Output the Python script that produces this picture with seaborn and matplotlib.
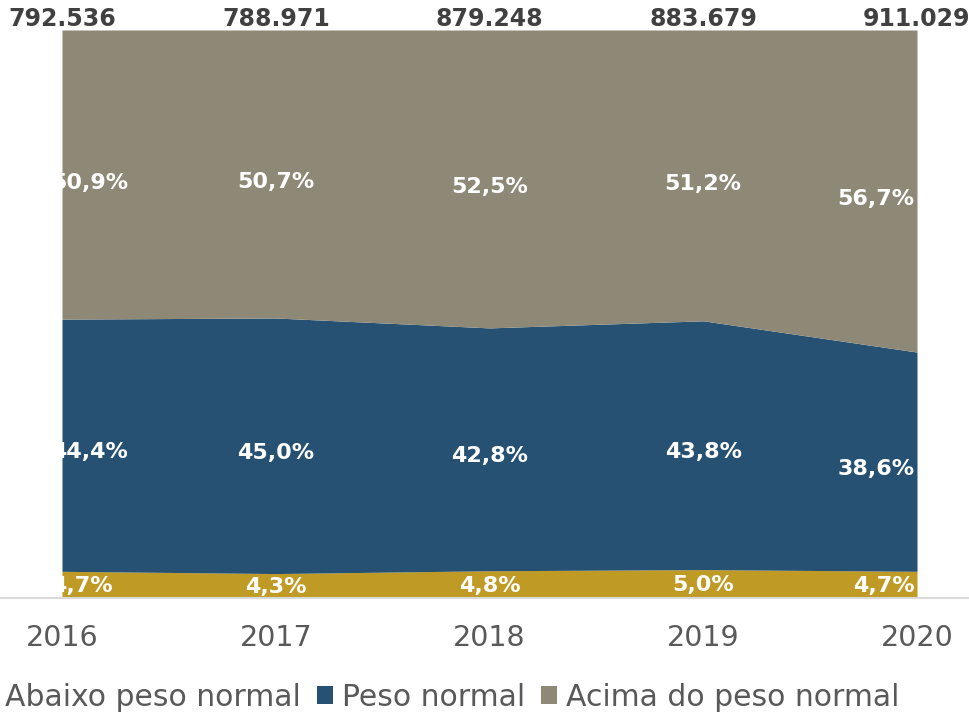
import matplotlib
matplotlib.use("Agg")
import matplotlib.pyplot as plt
from matplotlib.lines import Line2D
from matplotlib.patches import Patch
import seaborn as sns
import numpy as np

years = ["2016", "2017", "2018", "2019", "2020"]
totals = [792536, 788971, 879248, 883679, 911029]
abaixo = [4.7, 4.3, 4.8, 5.0, 4.7]
normal = [44.4, 45.0, 42.8, 43.8, 38.6]
acima = [50.9, 50.7, 52.5, 51.2, 56.7]

series_names = ["Abaixo peso normal", "Peso normal", "Acima do peso normal"]
colors = ["#BF9A24", "#265172", "#8E8876"]

sns.set_theme(style="white")
plt.rcParams["font.family"] = ["DejaVu Sans"]

vals = np.array([abaixo, normal, acima], dtype=float)
shares = vals / vals.sum(axis=0) * 100
x = np.arange(len(years))

fig = plt.figure(figsize=(9.69, 7.15), dpi=100)
ax = fig.add_axes([62 / 969, 1 - 598 / 715, (917 - 62) / 969, (598 - 30) / 715])

ax.stackplot(x, shares, colors=colors, linewidth=0)
ax.set_xlim(0, len(years) - 1)
ax.set_ylim(0, 100)
ax.set_yticks([])
ax.set_xticks(x)
ax.set_xticklabels(years, fontsize=20.5, color="#595959")
ax.tick_params(axis="x", length=0, pad=19)
for s in ax.spines.values():
    s.set_visible(False)

# baseline across the whole width
fig.add_artist(Line2D([0, 1], [1 - 598 / 715] * 2, color="#D9D9D9", lw=1.5))

# percentage labels in the middle of each band
bottoms = np.vstack([np.zeros(len(years)), np.cumsum(shares, axis=0)[:-1]])
dy = [-1, -5, -6]
for i in range(len(series_names)):
    for j in range(len(years)):
        mid = bottoms[i, j] + shares[i, j] / 2
        txt = f"{vals[i, j]:.1f}%".replace(".", ",")
        if j == 0:
            ha, dx = "left", -8
        elif j == len(years) - 1:
            ha, dx = "right", -2
        else:
            ha, dx = "center", 0
        ax.annotate(txt, (x[j], mid), xytext=(dx, dy[i]), textcoords="offset points",
                    ha=ha, va="center", color="white", fontsize=16,
                    fontweight="bold", annotation_clip=False, clip_on=True)

# totals above each year
for j, t in enumerate(totals):
    ax.annotate(f"{t:,}".replace(",", "."), (x[j], 100), xytext=(0, 8),
                textcoords="offset points", ha="center", va="center",
                fontsize=17, fontweight="bold", color="#404040",
                annotation_clip=False)

handles = [Patch(facecolor=c, edgecolor="none") for c in colors]
fig.legend(handles, series_names, loc="center left", bbox_to_anchor=(-0.02, 1 - 697 / 715),
           ncol=3, frameon=False, fontsize=21.5, handlelength=0.52, handleheight=0.52,
           handletextpad=0.3, columnspacing=0.55, labelcolor="#595959",
           borderpad=0, borderaxespad=0)

fig.savefig("out.png", dpi=100)
